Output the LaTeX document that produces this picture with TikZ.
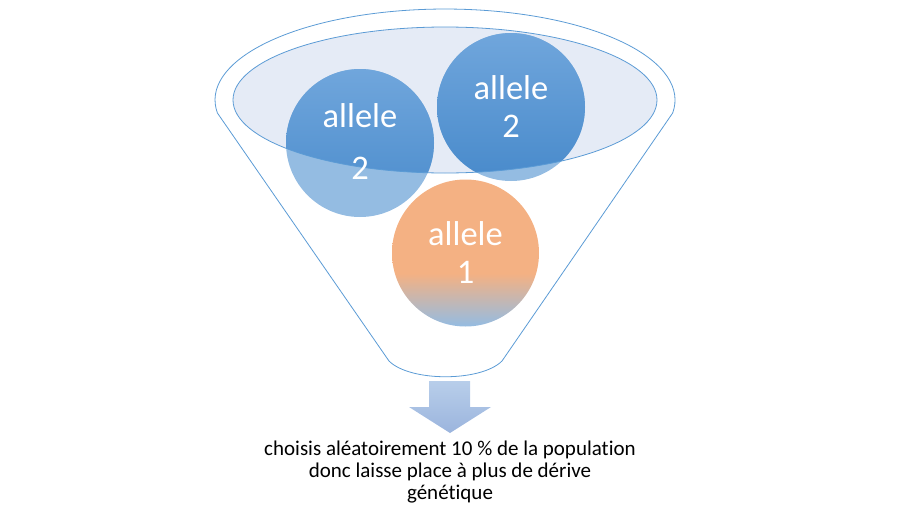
\documentclass[tikz,border=0pt]{standalone}
\usepackage{fontspec}
\setmainfont{Carlito}[Ligatures=NoCommon]
\usetikzlibrary{positioning,calc}
\definecolor{funnelblue}{RGB}{91,155,213}
\definecolor{funnelfill}{RGB}{229,235,246}
\definecolor{alleletop}{RGB}{112,166,220}
\definecolor{allelebot}{RGB}{72,138,203}
\definecolor{allelepale}{RGB}{148,188,226}
\definecolor{alleleorange}{RGB}{244,177,131}
\definecolor{arrowtop}{RGB}{184,206,234}
\definecolor{arrowbot}{RGB}{155,180,221}
\pgfdeclareverticalshading{orangefade}{100bp}{color(0bp)=(allelepale); color(25bp)=(allelepale); color(43bp)=(alleleorange); color(100bp)=(alleleorange)}

\begin{document}
\begin{tikzpicture}[x=1pt,y=-1pt]
    \tikzset{
        allelelabel/.style={text=white, font=\fontsize{34.5}{40}\selectfont, inner sep=0pt},
        bottomlabel/.style={align=center, font=\fontsize{21}{22}\selectfont, inner sep=0pt}
    }
    \useasboundingbox (0,0) rectangle (900,525);
    % Funnel outline
    \draw[funnelblue, line width=0.8pt] (217.4,113) arc[start angle=171.8, end angle=368.2, x radius=230, y radius=91]
        -- (502,361) .. controls (481,382) and (410,382) .. (389,361) -- cycle;
    % Top of the funnel
    \fill[funnelfill] (445,100) ellipse (212 and 73);
    % Circles, pale outside the top ellipse
    \fill[allelepale] (360,143) circle (74);
    \fill[allelepale] (511,107) circle (74);
    \begin{scope}
        \clip (445,100) ellipse (212 and 73);
        \shade[top color=alleletop, bottom color=allelebot] (360,143) circle (74);
        \shade[top color=alleletop, bottom color=allelebot] (511,107) circle (74);
    \end{scope}
    \shade[shading=orangefade] (465.5,253) circle (73.5);
    \draw[funnelblue, line width=0.8pt] (445,100) ellipse (212 and 73);
    % Labels in the circles
    \node[allelelabel] (leftallele) at (360,116) {allele};
    \node[allelelabel] (lefttwo) at (360,168) {2};
    \node[allelelabel] (rightallele) at (511,88) {allele};
    \node[allelelabel] (righttwo) at (511,126) {2};
    \node[allelelabel] (lowallele) at (465.5,234) {allele};
    \node[allelelabel] (lowone) at (465.5,272) {1};
    % Arrow out of the funnel
    \shade[top color=arrowtop, bottom color=arrowbot] (429,381) -- (470,381) -- (470,407) -- (491,407)
        -- (450,433) -- (409,407) -- (429,407) -- cycle;
    \node[bottomlabel] (result) at (450,472) {choisis aléatoirement 10 \% de la population\\donc laisse place à plus de dérive\\génétique};
\end{tikzpicture}
\end{document}
